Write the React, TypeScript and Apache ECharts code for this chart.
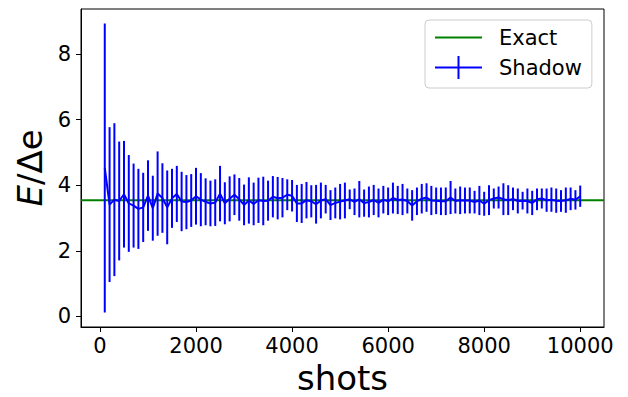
import React, { useEffect, useRef } from "react";
import * as echarts from "echarts";

const shots = [
  100, 200, 300, 400, 500, 600, 700, 800, 900, 1000,
  1100, 1200, 1300, 1400, 1500, 1600, 1700, 1800, 1900, 2000,
  2100, 2200, 2300, 2400, 2500, 2600, 2700, 2800, 2900, 3000,
  3100, 3200, 3300, 3400, 3500, 3600, 3700, 3800, 3900, 4000,
  4100, 4200, 4300, 4400, 4500, 4600, 4700, 4800, 4900, 5000,
  5100, 5200, 5300, 5400, 5500, 5600, 5700, 5800, 5900, 6000,
  6100, 6200, 6300, 6400, 6500, 6600, 6700, 6800, 6900, 7000,
  7100, 7200, 7300, 7400, 7500, 7600, 7700, 7800, 7900, 8000,
  8100, 8200, 8300, 8400, 8500, 8600, 8700, 8800, 8900, 9000,
  9100, 9200, 9300, 9400, 9500, 9600, 9700, 9800, 9900, 10000,
];

const upper = [
  8.93, 5.77, 5.89, 5.33, 5.35, 4.92, 4.66, 4.5, 4.38, 4.76,
  4.29, 5.03, 4.67, 4.45, 4.5, 4.59, 4.41, 4.31, 4.34, 4.53,
  4.37, 4.21, 4.14, 4.18, 4.59, 4.09, 4.27, 4.33, 4.22, 4.02,
  4.24, 4.08, 4.23, 4.26, 4.14, 4.28, 4.25, 4.22, 4.18, 4.16,
  4.01, 4.04, 4.1, 4.0, 4.01, 4.08, 4.01, 3.85, 3.93, 4.04,
  4.08, 3.87, 3.9, 4.13, 3.87, 3.96, 4.01, 3.9, 3.98, 3.93,
  4.08, 3.98, 4.04, 3.9, 3.85, 3.93, 4.04, 4.06, 3.98, 3.93,
  3.93, 3.93, 4.13, 3.9, 3.96, 3.93, 3.93, 3.83, 3.98, 3.8,
  4.0, 3.9, 3.96, 4.06, 4.0, 3.93, 3.9, 3.8, 3.9, 3.83,
  3.9, 3.9, 3.9, 3.93, 3.9, 3.85, 3.93, 3.93, 3.85, 3.99,
];

const lower = [
  0.12, 1.05, 1.23, 1.71, 2.1, 1.97, 2.1, 2.06, 2.27, 2.61,
  2.31, 2.46, 2.55, 2.2, 2.7, 2.88, 2.6, 2.66, 2.73, 2.8,
  2.75, 2.78, 2.75, 2.76, 2.9, 2.81, 2.9, 3.09, 2.92, 2.78,
  2.83, 2.78, 2.85, 2.78, 2.92, 3.02, 2.96, 3.02, 3.24, 3.2,
  2.88, 2.85, 2.99, 3.02, 2.83, 2.99, 3.14, 2.94, 2.99, 2.96,
  2.99, 3.27, 3.09, 3.02, 3.04, 3.02, 3.09, 3.02, 3.14, 3.09,
  3.14, 3.12, 3.09, 3.14, 2.92, 3.09, 3.14, 3.19, 3.09, 3.12,
  3.09, 3.09, 3.12, 3.14, 3.12, 3.14, 3.14, 3.14, 3.09, 3.07,
  3.09, 3.29, 3.29, 3.09, 3.09, 3.24, 3.14, 3.26, 3.14, 3.09,
  3.24, 3.29, 3.19, 3.19, 3.16, 3.19, 3.16, 3.24, 3.26, 3.34,
];

const exactValue = 3.54;
const xTicks = [0, 2000, 4000, 6000, 8000, 10000];
const yTicks = [0, 2, 4, 6, 8];
const X_MIN = -395;
const X_MAX = 10495;
const Y_MIN = -0.32;
const Y_MAX = 9.37;

const FONT = "DejaVu Sans";

export default function App() {
  const ref = useRef<HTMLDivElement>(null);

  useEffect(() => {
    if (!ref.current) return;
    const chart = echarts.init(ref.current, undefined, { renderer: "svg" });

    const meanData = shots.map((s, i) => [s, (upper[i] + lower[i]) / 2]);
    const errData = shots.map((s, i) => [s, lower[i], upper[i]]);

    const option: any = {
      animation: false,
      backgroundColor: "#ffffff",
      grid: {
        left: 81,
        right: 24,
        top: 9,
        bottom: 70,
        show: true,
        containLabel: false,
        outerBoundsMode: "none",
        borderColor: "#000000",
        borderWidth: 1,
        backgroundColor: "transparent",
      },
      legend: {
        left: 425,
        top: 20,
        orient: "vertical",
        itemWidth: 47,
        itemHeight: 23,
        itemGap: 8,
        padding: [7, 10, 9, 10],
        borderColor: "#cccccc",
        borderWidth: 1,
        borderRadius: 4,
        backgroundColor: "rgba(255,255,255,0.8)",
        symbolKeepAspect: true,
        textStyle: {
          fontFamily: FONT,
          fontSize: 21,
          color: "#000000",
          padding: [0, 0, 0, 12],
        },
        data: [
          { name: "Exact", icon: "path://M0,0H47V2H0Z" },
          { name: "Shadow", icon: "path://M0,10.5H47V12.5H0Z M22.5,0H24.5V23H22.5Z" },
        ],
      },
      xAxis: {
        type: "value",
        min: X_MIN,
        max: X_MAX,
        name: "shots",
        nameLocation: "middle",
        nameGap: 33,
        nameTextStyle: { fontFamily: FONT, fontSize: 34, color: "#000000" },
        axisLine: { show: true, onZero: false, lineStyle: { color: "#000000", width: 1 } },
        axisTick: {
          show: true,
          length: 5,
          lineStyle: { color: "#000000", width: 1 },
          customValues: xTicks,
        },
        axisLabel: {
          fontFamily: FONT,
          fontSize: 21,
          color: "#000000",
          margin: 8,
          customValues: xTicks,
          formatter: (v: number) => String(v),
        },
        splitLine: { show: false },
      },
      yAxis: {
        type: "value",
        min: Y_MIN,
        max: Y_MAX,
        name: "{i|E}/Δe",
        nameLocation: "middle",
        nameGap: 30,
        nameRotate: 90,
        nameTextStyle: {
          fontFamily: FONT,
          fontSize: 34,
          color: "#000000",
          rich: {
            i: { fontFamily: FONT, fontSize: 34, fontStyle: "italic", color: "#000000" },
          },
        },
        axisLine: { show: true, onZero: false, lineStyle: { color: "#000000", width: 1 } },
        axisTick: {
          show: true,
          length: 5,
          lineStyle: { color: "#000000", width: 1 },
          customValues: yTicks,
        },
        axisLabel: {
          fontFamily: FONT,
          fontSize: 21,
          color: "#000000",
          margin: 10,
          customValues: yTicks,
          formatter: (v: number) => String(v),
        },
        splitLine: { show: false },
      },
      series: [
        {
          name: "Exact",
          type: "line",
          data: [
            [X_MIN, exactValue],
            [X_MAX, exactValue],
          ],
          symbol: "none",
          lineStyle: { color: "#008000", width: 2 },
          itemStyle: { color: "#008000" },
          z: 1,
        },
        {
          name: "Shadow",
          type: "custom",
          data: errData,
          encode: { x: 0, y: [1, 2] },
          itemStyle: { color: "#0000ff" },
          z: 2,
          renderItem: (params: any, api: any) => {
            const x = api.value(0);
            const lo = api.coord([x, api.value(1)]);
            const hi = api.coord([x, api.value(2)]);
            return {
              type: "line",
              shape: { x1: lo[0], y1: lo[1], x2: hi[0], y2: hi[1] },
              style: { stroke: "#0000ff", lineWidth: 2 },
            };
          },
        },
        {
          name: "Shadow",
          type: "line",
          data: meanData,
          symbol: "none",
          lineStyle: { color: "#0000ff", width: 2 },
          itemStyle: { color: "#0000ff" },
          z: 3,
        },
      ],
    };

    chart.setOption(option);
    return () => chart.dispose();
  }, []);

  return (
    <div
      ref={ref}
      style={{ position: "fixed", left: 0, top: 0, width: 628, height: 397, background: "#fff" }}
    />
  );
}
